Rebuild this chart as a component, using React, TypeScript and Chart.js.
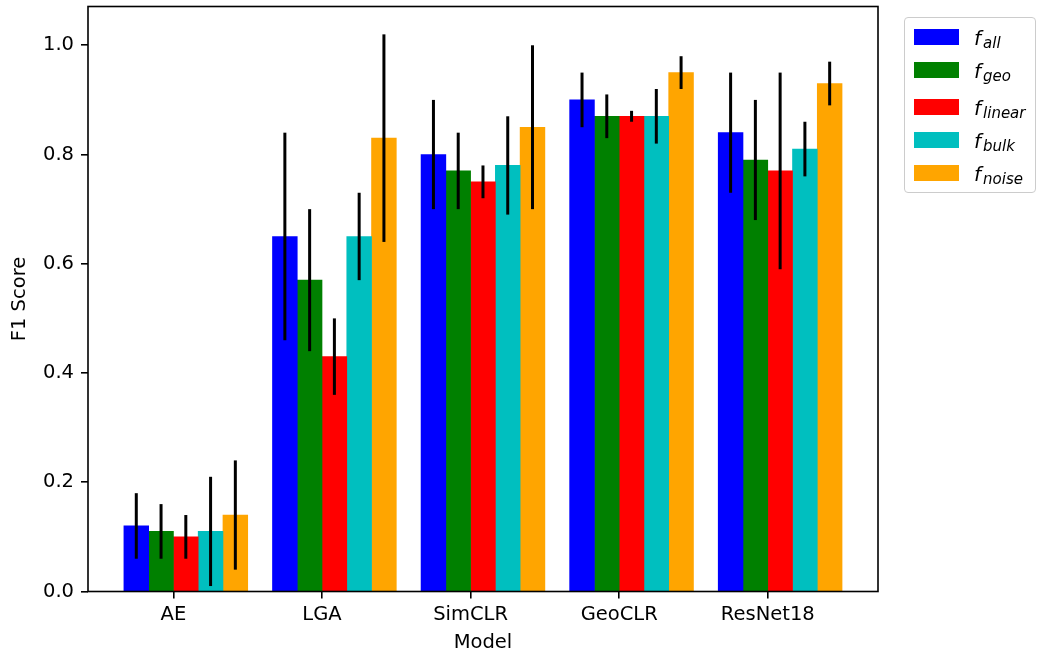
import React, { useEffect, useRef } from "react";
import { Chart, registerables } from "chart.js";

Chart.register(...registerables);

// ---------- data ----------
const models = ["AE", "LGA", "SimCLR", "GeoCLR", "ResNet18"];
const seriesKeys = ["all", "geo", "linear", "bulk", "noise"];
const seriesColors = ["#0000ff", "#008000", "#ff0000", "#00bfbf", "#ffa500"];

const fAll = [0.12, 0.65, 0.8, 0.9, 0.84];
const fAllErr = [0.06, 0.19, 0.1, 0.05, 0.11];
const fGeo = [0.11, 0.57, 0.77, 0.87, 0.79];
const fGeoErr = [0.05, 0.13, 0.07, 0.04, 0.11];
const fLinear = [0.1, 0.43, 0.75, 0.87, 0.77];
const fLinearErr = [0.04, 0.07, 0.03, 0.01, 0.18];
const fBulk = [0.11, 0.65, 0.78, 0.87, 0.81];
const fBulkErr = [0.1, 0.08, 0.09, 0.05, 0.05];
const fNoise = [0.14, 0.83, 0.85, 0.95, 0.93];
const fNoiseErr = [0.1, 0.19, 0.15, 0.03, 0.04];

const seriesValues = [fAll, fGeo, fLinear, fBulk, fNoise];
const seriesErrors = [fAllErr, fGeoErr, fLinearErr, fBulkErr, fNoiseErr];

const yTicks = [0, 0.2, 0.4, 0.6, 0.8, 1.0];

// ---------- layout constants ----------
const W = 1037;
const H = 659;
const FONT = "'DejaVu Sans', sans-serif";
const TICK_FONT_SIZE = 19.5;
const nSeries = seriesKeys.length;
const barSlot = 1 / (nSeries + 1);
const legendRowTops = [29, 62.3, 99.3, 132.3, 165];

export default function App() {
  const canvasRef = useRef<HTMLCanvasElement | null>(null);

  useEffect(() => {
    const canvas = canvasRef.current;
    if (!canvas) return;

    const datasets = seriesKeys.map((key, k) => ({
      label: key,
      data: models.map((_, i) => ({
        x: i + (k - (nSeries - 2) / 2) * barSlot,
        y: seriesValues[k][i],
      })),
      backgroundColor: seriesColors[k],
      borderWidth: 0,
      grouped: false,
      categoryPercentage: 1,
      barPercentage: 1,
    }));

    const errorBars = {
      id: "errorBars",
      afterDatasetsDraw(chart: any) {
        const ctx = chart.ctx;
        const xs = chart.scales.x;
        const ys = chart.scales.y;
        ctx.save();
        ctx.strokeStyle = "#000";
        ctx.lineWidth = 3;
        ctx.lineCap = "butt";
        chart.data.datasets.forEach((ds: any, k: number) => {
          ds.data.forEach((pt: any, i: number) => {
            const e = seriesErrors[k][i];
            const px = xs.getPixelForValue(pt.x);
            ctx.beginPath();
            ctx.moveTo(px, ys.getPixelForValue(pt.y - e));
            ctx.lineTo(px, ys.getPixelForValue(pt.y + e));
            ctx.stroke();
          });
        });
        ctx.restore();
      },
    };

    const frame = {
      id: "frame",
      afterDraw(chart: any) {
        const { left, top, right, bottom } = chart.chartArea;
        const ctx = chart.ctx;
        ctx.save();
        ctx.strokeStyle = "#000";
        ctx.lineWidth = 1.6;
        ctx.strokeRect(left, top, right - left, bottom - top);
        ctx.restore();
      },
    };

    const chart = new Chart(canvas, {
      type: "bar",
      data: { datasets: datasets as any },
      plugins: [errorBars, frame],
      options: {
        animation: false,
        responsive: false,
        devicePixelRatio: 1,
        layout: { padding: { top: 6.5, right: 159, left: 0, bottom: 0 } },
        plugins: {
          legend: { display: false },
          tooltip: { enabled: false },
        },
        scales: {
          x: {
            type: "linear",
            min: -0.575,
            max: 4.742,
            offset: false,
            afterBuildTicks: (scale: any) => {
              scale.ticks = models.map((_, i) => ({ value: i }));
            },
            afterFit: (scale: any) => {
              scale.height = 67.5;
              scale.paddingLeft = 0;
              scale.paddingRight = 0;
              scale.paddingTop = 0;
              scale.paddingBottom = 0;
            },
            border: { display: false },
            grid: {
              display: true,
              drawOnChartArea: false,
              drawTicks: true,
              tickLength: 7,
              color: "#000",
              lineWidth: 1.6,
              offset: false,
            },
            ticks: {
              autoSkip: false,
              maxRotation: 0,
              padding: 5,
              color: "#000",
              font: { family: FONT, size: TICK_FONT_SIZE },
              callback: (v: any) => models[Number(v)] ?? "",
            },
            title: {
              display: true,
              text: "Model",
              color: "#000",
              font: { family: FONT, size: TICK_FONT_SIZE },
              padding: { top: 0, bottom: 4.3 },
            },
          },
          y: {
            type: "linear",
            min: 0,
            max: 1.071,
            afterBuildTicks: (scale: any) => {
              scale.ticks = yTicks.map((v) => ({ value: v }));
            },
            afterFit: (scale: any) => {
              scale.width = 88;
              scale.paddingLeft = 0;
              scale.paddingRight = 0;
              scale.paddingTop = 0;
              scale.paddingBottom = 0;
            },
            border: { display: false },
            grid: {
              display: true,
              drawOnChartArea: false,
              drawTicks: true,
              tickLength: 7,
              color: "#000",
              lineWidth: 1.6,
            },
            ticks: {
              padding: 7,
              color: "#000",
              font: { family: FONT, size: TICK_FONT_SIZE },
              callback: (v: any) => Number(v).toFixed(1),
            },
            title: {
              display: true,
              text: "F1 Score",
              color: "#000",
              font: { family: FONT, size: TICK_FONT_SIZE },
              padding: { top: 8.3, bottom: 0 },
            },
          },
        },
      } as any,
    });

    return () => chart.destroy();
  }, []);

  return (
    <div
      style={{
        position: "absolute",
        left: 0,
        top: 0,
        width: W,
        height: H,
        background: "#fff",
        overflow: "hidden",
        fontFamily: FONT,
      }}
    >
      <canvas
        ref={canvasRef}
        width={W}
        height={H}
        style={{ width: W, height: H, display: "block" }}
      />
      <div
        style={{
          position: "absolute",
          left: 904,
          top: 16.7,
          width: 132,
          height: 176.6,
          border: "1.6px solid #cccccc",
          borderRadius: 4,
          background: "rgba(255,255,255,0.8)",
          boxSizing: "border-box",
        }}
      />
      {seriesKeys.map((key, k) => (
        <React.Fragment key={key}>
          <div
            style={{
              position: "absolute",
              left: 914,
              top: legendRowTops[k],
              width: 45,
              height: 15.7,
              background: seriesColors[k],
            }}
          />
          <div
            style={{
              position: "absolute",
              left: 974,
              top: legendRowTops[k] - 1.2,
              fontSize: 20,
              lineHeight: "20px",
              whiteSpace: "nowrap",
              fontStyle: "italic",
              color: "#000",
              fontFamily: FONT,
            }}
          >
            <span>f</span>
            <span
              style={{
                fontSize: 15,
                position: "relative",
                top: 3,
                marginLeft: 2,
              }}
            >
              {key}
            </span>
          </div>
        </React.Fragment>
      ))}
    </div>
  );
}
